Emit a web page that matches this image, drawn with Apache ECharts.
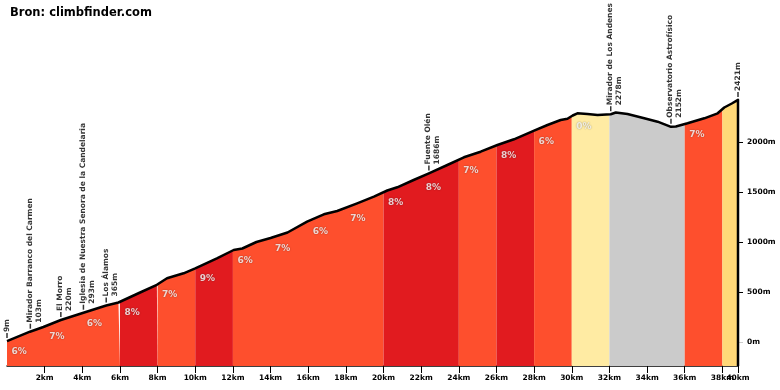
<!DOCTYPE html>
<html><head><meta charset="utf-8">
<script src="https://cdn.jsdelivr.net/npm/echarts@6/dist/echarts.min.js"></script>
<style>html,body{margin:0;padding:0;background:#fff}#c{width:780px;height:390px}</style>
</head><body><div id="c"></div>
<script>
const titleText = 'Bron: climbfinder.com';
const profileKm   = [0, 1.22, 1.93, 2.86, 4.06, 5.27, 5.92, 7.07, 7.96, 8.5, 9.38, 10.0, 11.15, 12.04, 12.5, 13.25, 14.0, 14.9, 15.94, 16.83, 17.54, 18.6, 19.49, 20.2, 20.73, 21.6, 22.41, 23.39, 24.27, 25.16, 26.05, 26.93, 28.0, 28.71, 29.41, 29.77, 30.05, 30.3, 30.83, 31.37, 32.07, 32.34, 32.96, 33.85, 34.56, 35.27, 35.53, 36.15, 37.04, 37.75, 38.1, 38.5, 38.83];
const profileElev = [9, 103, 150, 220, 293, 365, 395, 495, 572, 637, 687, 737, 837, 920, 935, 1000, 1040, 1095, 1203, 1277, 1310, 1387, 1453, 1515, 1547, 1620, 1686, 1770, 1847, 1903, 1970, 2027, 2113, 2170, 2220, 2232, 2265, 2287, 2280, 2270, 2278, 2295, 2280, 2237, 2203, 2152, 2155, 2187, 2237, 2287, 2345, 2385, 2421];
const segStarts = [0, 2, 4, 6, 8, 10, 12, 14, 16, 18, 20, 22, 24, 26, 28, 30, 32, 34, 36, 38];
const segEnds   = [2, 4, 6, 8, 10, 12, 14, 16, 18, 20, 22, 24, 26, 28, 30, 32, 34, 36, 38, 38.83];
const segGrades = [6, 7, 6, 8, 7, 9, 6, 7, 6, 7, 8, 8, 7, 8, 6, 0, -4, -2, 7, null];
const waypointKm   = [0, 1.24, 2.86, 4.06, 5.27, 22.41, 32.07, 35.27, 38.83];
const waypointElev = [9, 103, 220, 293, 365, 1686, 2278, 2152, 2421];
const waypointName = ['', 'Mirador Barranco del Carmen', 'El Morro', 'Iglesia de Nuestra Senora de la Candelaria', 'Los Álamos', 'Fuente Olén', 'Mirador de Los Andenes', 'Observatorio Astrofísico', ''];
const xTickKm = [2, 4, 6, 8, 10, 12, 14, 16, 18, 20, 22, 24, 26, 28, 30, 32, 34, 36, 38];
const xTickLabels = ['2km','4km','6km','8km','10km','12km','14km','16km','18km','20km','22km','24km','26km','28km','30km','32km','34km','36km','38km'];
const xEndKm = [38.83];
const xEndLabel = ['40km'];
const yTickValues = [500, 1000, 1500, 2000];
const yZeroValue = [0];

const Y_MIN = -240, Y_MAX = 3320;
const X_MAX = profileKm[profileKm.length - 1];
const FONT = 'DejaVu Sans';

function interp(km) {
  for (let i = 0; i < profileKm.length - 1; i++) {
    if (km >= profileKm[i] && km <= profileKm[i + 1]) {
      const t = (km - profileKm[i]) / (profileKm[i + 1] - profileKm[i]);
      return profileElev[i] + t * (profileElev[i + 1] - profileElev[i]);
    }
  }
  return profileElev[profileElev.length - 1];
}
function gradeColor(g) {
  if (g === null) return '#ffd878';
  if (g < 0) return '#cbcbcb';
  if (g < 1) return '#ffeba3';
  if (g < 8) return '#fe4f2d';
  return '#e11b1f';
}
function lookup(keys, labels) {
  return v => { let best = -1, bd = 1e9; keys.forEach((t, i) => { const d = Math.abs(t - v); if (d < bd) { bd = d; best = i; } }); return bd < 0.01 ? labels[best] : ''; };
}

const bands = [];
segStarts.forEach((s, i) => {
  const c = gradeColor(segGrades[i]);
  const last = bands[bands.length - 1];
  if (last && last.color === c) last.end = segEnds[i];
  else bands.push({ start: s, end: segEnds[i], color: c });
});

const series = [];
bands.forEach(b => {
  const pts = [[b.start, interp(b.start)]];
  profileKm.forEach((k, j) => { if (k > b.start && k < b.end) pts.push([k, profileElev[j]]); });
  pts.push([b.end, interp(b.end)]);
  series.push({
    type: 'line', data: pts, symbol: 'none', silent: true, z: 1,
    lineStyle: { width: 0 },
    areaStyle: { color: b.color, opacity: 1, origin: 'start' }
  });
});
const outline = profileKm.map((k, i) => [k, profileElev[i]]);
outline.push([X_MAX, Y_MIN]);
series.push({
  type: 'line', data: outline, symbol: 'none', silent: true, z: 3,
  lineStyle: { color: '#000', width: 2.5, join: 'round' }
});
series.push({
  type: 'scatter', z: 4, silent: true, symbol: 'circle', symbolSize: 1,
  itemStyle: { color: 'rgba(0,0,0,0)' },
  data: segStarts.map((s, i) => ({ value: [s, interp(s)], grade: segGrades[i] }))
    .filter(d => d.grade !== null && d.grade >= 0)
    .map(d => ({ value: d.value, label: { formatter: d.grade + '%' } })),
  label: {
    show: true, position: [5, 6.5], align: 'left', verticalAlign: 'top',
    color: '#fff', fontFamily: FONT, fontWeight: 'bold', fontSize: 9,
    textShadowColor: 'rgba(0,0,0,0.55)', textShadowBlur: 1.5
  }
});
series.push({
  type: 'scatter', z: 5, silent: true, symbol: 'rect', symbolSize: [1.5, 5], symbolOffset: [0, -5.5],
  itemStyle: { color: '#000' },
  data: waypointKm.map((k, i) => ({
    value: [k, waypointElev[i]],
    label: {
      formatter: waypointName[i] ? waypointName[i] + '\n' + waypointElev[i] + 'm' : waypointElev[i] + 'm',
      offset: waypointName[i] ? [0, 4] : [0, 0]
    }
  })),
  label: {
    show: true, position: 'top', distance: 1, rotate: 90, align: 'left', verticalAlign: 'middle',
    color: '#000', fontFamily: FONT, fontWeight: 'bold', fontSize: 7.5, lineHeight: 9
  }
});

const xLabelStyle = { fontFamily: FONT, fontWeight: 'bold', fontSize: 7.5, color: '#000', margin: 8.5, hideOverlap: false };
const chart = echarts.init(document.getElementById('c'), null, { renderer: 'canvas' });
chart.setOption({
  animation: false,
  backgroundColor: '#fff',
  title: { text: titleText, left: 5, top: 2, textStyle: { fontFamily: FONT, fontWeight: 'bold', fontSize: 11.5, color: '#000' } },
  grid: { left: 7, right: 42, top: 10, bottom: 24, containLabel: false },
  xAxis: [{
    type: 'value', min: 0, max: X_MAX, position: 'bottom',
    axisLine: { show: true, onZero: false, lineStyle: { color: '#000', width: 1.5 } },
    axisTick: { show: true, customValues: xTickKm, length: 7, lineStyle: { color: '#000', width: 1 } },
    axisLabel: Object.assign({ show: true, customValues: xTickKm, formatter: lookup(xTickKm, xTickLabels) }, xLabelStyle),
    splitLine: { show: false }
  }, {
    type: 'value', min: 0, max: X_MAX, position: 'bottom', offset: 0,
    axisLine: { show: false, onZero: false },
    axisTick: { show: true, customValues: xEndKm, length: 7, lineStyle: { color: '#000', width: 1 } },
    axisLabel: Object.assign({ show: true, customValues: xEndKm, formatter: lookup(xEndKm, xEndLabel) }, xLabelStyle),
    splitLine: { show: false }
  }],
  yAxis: [{
    type: 'value', min: Y_MIN, max: Y_MAX, position: 'right',
    axisLine: { show: false, onZero: false },
    axisTick: { show: true, customValues: yTickValues, length: 5, lineStyle: { color: '#000', width: 1 } },
    axisLabel: { show: true, customValues: yTickValues, margin: 9, fontFamily: FONT, fontWeight: 'bold', fontSize: 7.5, color: '#000', formatter: v => v + 'm' },
    splitLine: { show: false }
  }, {
    type: 'value', min: Y_MIN, max: Y_MAX, position: 'right', offset: 0,
    axisLine: { show: false, onZero: false },
    axisTick: { show: true, customValues: yZeroValue, length: 5, lineStyle: { color: '#cccccc', width: 1 } },
    axisLabel: { show: true, customValues: yZeroValue, margin: 9, fontFamily: FONT, fontWeight: 'bold', fontSize: 7.5, color: '#000', formatter: v => v + 'm' },
    splitLine: { show: false }
  }],
  series: series
});
</script>
</body></html>
